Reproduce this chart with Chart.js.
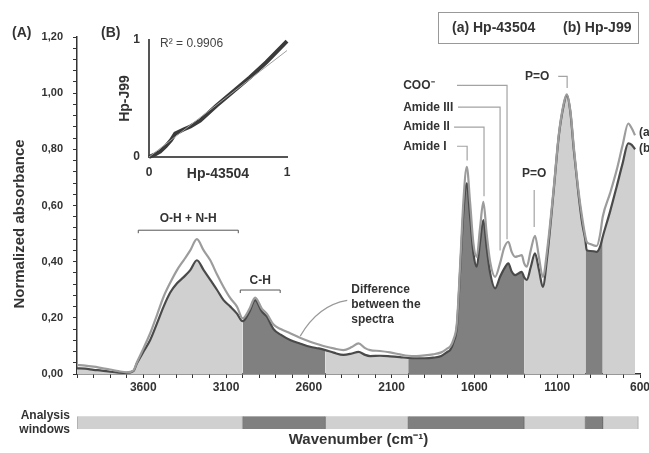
<!DOCTYPE html>
<html>
<head>
<meta charset="utf-8">
<script src="https://cdn.jsdelivr.net/npm/chart.js@4.4.0/dist/chart.umd.min.js"></script>
<style>
  html, body { margin: 0; padding: 0; background: #fff; }
  #wrap { position: relative; width: 649px; height: 453px; overflow: hidden; }
  #wrap canvas { position: absolute; }
</style>
</head>
<body>
<div id="wrap">
  <canvas id="spectraChart" width="649" height="453" style="left:0;top:0"></canvas>
  <canvas id="windowChart" width="649" height="58" style="left:0;top:395px"></canvas>
  <canvas id="corrChart" width="210" height="165" style="left:95px;top:20px"></canvas>
</div>
<script>
// Spectra (A): wavenumber (cm-1) and normalized absorbance of both strains
const wavenumbers = [
  4000, 3950, 3900, 3850, 3800, 3750, 3700, 3660, 3638, 3598,
  3558, 3517, 3477, 3437, 3396, 3356, 3316, 3276, 3235, 3195,
  3155, 3115, 3074, 3034, 3000, 2960, 2924, 2883, 2853, 2813,
  2770, 2713, 2650, 2592, 2540, 2500, 2450, 2391, 2340, 2300,
  2260, 2230, 2170, 2109, 2050, 2000, 1950, 1900, 1850, 1800,
  1760, 1747, 1725, 1706, 1686, 1666, 1646, 1626, 1606, 1586,
  1566, 1546, 1526, 1505, 1475, 1445, 1420, 1395, 1375, 1354,
  1334, 1314, 1300, 1284, 1260, 1234, 1210, 1187, 1160, 1123,
  1090, 1060, 1042, 1020, 1000, 972, 950, 930, 922, 900,
  880, 861, 840, 825, 780, 741, 705, 671, 650, 630
];
// (a) Hp-43504
const absorbanceA = [
  0.032, 0.030, 0.026, 0.021, 0.016, 0.010, 0.006, 0.012, 0.042, 0.092,
  0.145, 0.210, 0.275, 0.325, 0.370, 0.405, 0.440, 0.480, 0.440, 0.405,
  0.355, 0.310, 0.270, 0.240, 0.198, 0.230, 0.272, 0.232, 0.214, 0.176,
  0.160, 0.145, 0.128, 0.115, 0.105, 0.098, 0.091, 0.085, 0.096, 0.109,
  0.092, 0.085, 0.082, 0.077, 0.070, 0.065, 0.064, 0.066, 0.070, 0.077,
  0.092, 0.097, 0.125, 0.180, 0.390, 0.620, 0.738, 0.610, 0.465, 0.417,
  0.520, 0.613, 0.500, 0.400, 0.346, 0.395, 0.450, 0.471, 0.435, 0.417,
  0.420, 0.423, 0.395, 0.382, 0.440, 0.492, 0.415, 0.346, 0.445, 0.650,
  0.855, 0.965, 0.996, 0.935, 0.810, 0.655, 0.560, 0.490, 0.471, 0.463,
  0.458, 0.456, 0.500, 0.560, 0.645, 0.726, 0.815, 0.892, 0.875, 0.850
];
// (b) Hp-J99
const absorbanceB = [
  0.020, 0.019, 0.015, 0.012, 0.008, 0.005, 0.004, 0.010, 0.038, 0.080,
  0.121, 0.180, 0.240, 0.290, 0.323, 0.345, 0.370, 0.405, 0.370, 0.335,
  0.300, 0.263, 0.240, 0.215, 0.188, 0.220, 0.263, 0.222, 0.204, 0.160,
  0.140, 0.121, 0.108, 0.097, 0.091, 0.085, 0.076, 0.068, 0.073, 0.079,
  0.068, 0.064, 0.065, 0.063, 0.060, 0.057, 0.056, 0.056, 0.058, 0.064,
  0.080, 0.085, 0.115, 0.168, 0.370, 0.580, 0.679, 0.560, 0.430, 0.382,
  0.470, 0.548, 0.450, 0.360, 0.305, 0.346, 0.375, 0.394, 0.365, 0.352,
  0.358, 0.364, 0.345, 0.335, 0.380, 0.430, 0.370, 0.310, 0.420, 0.643,
  0.850, 0.960, 0.993, 0.930, 0.800, 0.643, 0.540, 0.477, 0.441, 0.438,
  0.437, 0.435, 0.455, 0.489, 0.580, 0.667, 0.750, 0.821, 0.816, 0.800
];

// Analysis windows (cm-1), alternating light / dark
const windowFrom = [4000, 3000, 2500, 2000, 1300, 930, 825];
const windowTo = [3000, 2500, 2000, 1300, 930, 825, 610];

const xTickLabels = [3600, 3100, 2600, 2100, 1600, 1100, 600];
const yTickLabels = [0, 0.2, 0.4, 0.6, 0.8, 1.0, 1.2];

// Correlation (B): Hp-43504 vs Hp-J99, and linear fit
const corrA = [0.00, 0.04, 0.08, 0.12, 0.16, 0.19, 0.25, 0.30, 0.37, 0.49, 0.61, 0.73, 0.85, 1.00];
const corrB = [0.00, 0.02, 0.045, 0.09, 0.145, 0.20, 0.235, 0.26, 0.31, 0.44, 0.56, 0.68, 0.81, 0.99];
const trendA = [0, 1];
const trendB = [0.0, 0.91];
const rSquared = '0.9906';

// Styles
const FONT = '"Liberation Sans", Arial, sans-serif';
const INK = '#333';
const AXIS = '#333';
const LIGHT = '#d0d0d0';
const DARK = '#808080';
const LEADER = '#a3a3a3';

Chart.defaults.font.family = FONT;
Chart.defaults.color = INK;

// Peak labels: text position and leader line, in (wavenumber, absorbance)
const peakNotes = [
  { text: 'COO\u207B', label: [2030, 1.028], leader: [[1705, 1.028], [1403, 1.028], [1403, 0.48]] },
  { text: 'Amide III', label: [2030, 0.950], leader: [[1699, 0.950], [1445, 0.950], [1445, 0.44]] },
  { text: 'Amide II', label: [2030, 0.879], leader: [[1723, 0.879], [1542, 0.879], [1542, 0.633]] },
  { text: 'Amide I', label: [2030, 0.811], leader: [[1705, 0.811], [1644, 0.811], [1644, 0.76]] },
  { text: 'P=O', label: [1294, 1.060], leader: [[1094, 1.060], [1040, 1.060], [1040, 1.018]] },
  { text: 'P=O', label: [1312, 0.715], leader: [[1239, 0.655], [1239, 0.523]] },
  { text: '(a)', label: [606, 0.861], leader: [] },
  { text: '(b)', label: [606, 0.804], leader: [] }
];
const bandNotes = [
  { text: 'O-H + N-H', from: 3630, to: 3026, level: 0.512, textLevel: 0.552 },
  { text: 'C-H', from: 3014, to: 2773, level: 0.299, textLevel: 0.331 }
];
const diffNote = {
  lines: ['Difference', 'between the', 'spectra'],
  at: [2344, 0.299],
  curve: [[2652, 0.135], [2543, 0.245], [2368, 0.262]]
};

function points(xs, ys) {
  return xs.map((v, i) => ({ x: v, y: ys[i] }));
}

// Fill under spectrum (b), one dataset per analysis window
function windowFills() {
  return windowFrom.map((from, i) => ({
    data: points(wavenumbers, absorbanceB).filter(p => p.x <= from && p.x >= windowTo[i]),
    backgroundColor: i % 2 ? DARK : LIGHT,
    borderColor: 'transparent',
    borderWidth: 0,
    fill: 'origin',
    cubicInterpolationMode: 'monotone',
    order: 1
  }));
}

const notesPlugin = {
  id: 'notes',
  afterDraw(chart) {
    const { ctx, scales: { x, y } } = chart;
    const at = p => [x.getPixelForValue(p[0]), y.getPixelForValue(p[1])];
    ctx.save();
    ctx.font = `bold 12px ${FONT}`;
    ctx.fillStyle = INK;
    ctx.textBaseline = 'middle';

    // peak labels with leader lines
    ctx.strokeStyle = LEADER;
    ctx.lineWidth = 1.2;
    peakNotes.forEach(n => {
      if (n.leader.length) {
        ctx.beginPath();
        n.leader.forEach((p, i) => {
          const [px, py] = at(p);
          if (i) ctx.lineTo(px, py); else ctx.moveTo(px, py);
        });
        ctx.stroke();
      }
      const [tx, ty] = at(n.label);
      ctx.textAlign = 'left';
      ctx.fillText(n.text, tx, ty);
    });

    // band brackets
    ctx.strokeStyle = '#555';
    ctx.lineWidth = 1;
    bandNotes.forEach(b => {
      const [x1, ly] = at([b.from, b.level]);
      const [x2] = at([b.to, b.level]);
      ctx.beginPath();
      ctx.moveTo(x1, ly + 3);
      ctx.lineTo(x1, ly);
      ctx.lineTo(x2, ly);
      ctx.lineTo(x2, ly + 3);
      ctx.stroke();
      const [tx, ty] = at([(b.from + b.to) / 2, b.textLevel]);
      ctx.textAlign = 'center';
      ctx.fillText(b.text, tx, ty);
    });

    // difference between spectra
    const [s, c, e] = diffNote.curve.map(at);
    ctx.strokeStyle = '#999';
    ctx.lineWidth = 1.2;
    ctx.beginPath();
    ctx.moveTo(s[0], s[1]);
    ctx.quadraticCurveTo(c[0], c[1], e[0], e[1]);
    ctx.stroke();
    const [dx, dy] = at(diffNote.at);
    ctx.textAlign = 'left';
    diffNote.lines.forEach((t, i) => ctx.fillText(t, dx, dy + i * 15));

    // axis title
    ctx.save();
    ctx.font = `bold 15px ${FONT}`;
    ctx.textAlign = 'center';
    ctx.translate(20, 224);
    ctx.rotate(-Math.PI / 2);
    ctx.fillText('Normalized absorbance', 0, 0);
    ctx.restore();

    // panel labels
    ctx.font = `bold 14px ${FONT}`;
    ctx.textAlign = 'left';
    ctx.fillText('(A)', 12, 33);
    ctx.fillText('(B)', 101, 33);

    // sample key box
    ctx.strokeStyle = '#999';
    ctx.lineWidth = 1;
    ctx.strokeRect(438.5, 12.5, 200, 31);
    ctx.fillText('(a) Hp-43504', 452, 28);
    ctx.fillText('(b) Hp-J99', 563, 28);
    ctx.restore();
  }
};

const spectraChart = new Chart(document.getElementById('spectraChart'), {
  type: 'line',
  data: {
    datasets: [
      {
        label: 'Hp-43504',
        data: points(wavenumbers, absorbanceA),
        borderColor: '#9c9c9c',
        borderWidth: 2.2,
        fill: false,
        cubicInterpolationMode: 'monotone',
        order: 0
      },
      {
        label: 'Hp-J99',
        data: points(wavenumbers, absorbanceB),
        borderColor: '#4a4a4a',
        borderWidth: 2.2,
        fill: false,
        cubicInterpolationMode: 'monotone',
        order: 0
      },
      ...windowFills()
    ]
  },
  options: {
    responsive: false,
    animation: false,
    layout: { padding: { left: 0, right: 9, top: 37, bottom: 49 } },
    elements: { point: { radius: 0 } },
    plugins: { legend: { display: false }, tooltip: { enabled: false } },
    scales: {
      x: {
        type: 'linear',
        min: 600,
        max: 4000,
        reverse: true,
        ticks: {
          stepSize: 100,
          autoSkip: false,
          maxRotation: 0,
          padding: 2,
          color: INK,
          font: { size: 12, weight: 'bold' },
          callback: v => (xTickLabels.includes(v) ? String(v) : '')
        },
        grid: { drawOnChartArea: false, tickLength: 4, color: AXIS },
        border: { color: AXIS, width: 1.5 },
        afterFit(s) { s.height = 30; s.paddingLeft = 0; s.paddingRight = 0; }
      },
      y: {
        min: 0,
        max: 1.2,
        ticks: {
          stepSize: 0.04,
          autoSkip: false,
          padding: 10,
          color: INK,
          font: { size: 11, weight: 'bold' },
          callback: v => (yTickLabels.some(t => Math.abs(t - v) < 1e-6) ? v.toFixed(2).replace('.', ',') : '')
        },
        grid: { drawOnChartArea: false, tickLength: 4, color: AXIS },
        border: { color: AXIS, width: 1.5 },
        afterFit(s) { s.width = 77; }
      }
    }
  },
  plugins: [notesPlugin]
});

// Analysis windows bar, on the same wavenumber scale
new Chart(document.getElementById('windowChart'), {
  type: 'bar',
  data: {
    labels: [['Analysis', 'windows']],
    datasets: windowFrom.map((from, i) => ({
      data: [[from, windowTo[i]]],
      backgroundColor: i % 2 ? DARK : LIGHT,
      borderColor: i % 2 ? '#6e6e6e' : '#a4a4a4',
      borderWidth: 1,
      borderSkipped: false,
      barThickness: 15,
      grouped: false
    }))
  },
  options: {
    indexAxis: 'y',
    responsive: false,
    animation: false,
    layout: { padding: { left: 0, right: 9, top: 5, bottom: 0 } },
    plugins: { legend: { display: false }, tooltip: { enabled: false } },
    scales: {
      x: {
        type: 'linear',
        min: 600,
        max: 4000,
        reverse: true,
        ticks: { display: false },
        grid: { display: false, drawTicks: false },
        border: { display: false },
        title: {
          display: true,
          text: 'Wavenumber (cm\u207B\u00B9)',
          color: INK,
          font: { size: 15, weight: 'bold' },
          padding: { top: 0, bottom: 4.6 }
        },
        afterFit(s) { s.height = 24; s.paddingLeft = 0; s.paddingRight = 0; }
      },
      y: {
        ticks: { padding: 7, color: INK, font: { size: 12, weight: 'bold' } },
        grid: { display: false, drawTicks: false },
        border: { display: false },
        afterFit(s) { s.width = 77; }
      }
    }
  }
});

// Inset (B): correlation between the two spectra
const corrPlugin = {
  id: 'corrNote',
  afterDraw(chart) {
    const { ctx, scales: { x, y } } = chart;
    ctx.save();
    ctx.font = `12px ${FONT}`;
    ctx.fillStyle = '#444';
    ctx.textBaseline = 'middle';
    ctx.fillText('R\u00B2 = ' + rSquared, x.getPixelForValue(0.08), y.getPixelForValue(0.966));
    ctx.restore();
  }
};

new Chart(document.getElementById('corrChart'), {
  type: 'scatter',
  data: {
    datasets: [
      {
        data: points(trendA, trendB),
        showLine: true,
        borderColor: '#a0a0a0',
        borderWidth: 1,
        pointRadius: 0,
        clip: 5
      },
      {
        data: points(corrA, corrB),
        showLine: true,
        borderColor: '#3a3a3a',
        borderWidth: 4,
        pointRadius: 0,
        clip: 5
      }
    ]
  },
  options: {
    responsive: false,
    animation: false,
    layout: { padding: { left: 0, right: 18, top: 20, bottom: 0 } },
    plugins: { legend: { display: false }, tooltip: { enabled: false } },
    scales: {
      x: {
        type: 'linear',
        min: 0,
        max: 1,
        ticks: { stepSize: 1, padding: 8, color: INK, font: { size: 12, weight: 'bold' } },
        grid: { display: false, drawTicks: false },
        border: { color: '#555', width: 2 },
        title: { display: true, text: 'Hp-43504', color: INK, font: { size: 14, weight: 'bold' }, padding: { top: 0, bottom: 2.6 } },
        afterFit(s) { s.height = 28; }
      },
      y: {
        type: 'linear',
        min: 0,
        max: 1,
        ticks: { stepSize: 1, padding: 9, color: INK, font: { size: 12, weight: 'bold' } },
        grid: { display: false, drawTicks: false },
        border: { color: '#555', width: 2 },
        title: { display: true, text: 'Hp-J99', color: INK, font: { size: 14, weight: 'bold' }, padding: { top: 21.6, bottom: 0 } },
        afterFit(s) { s.width = 54; }
      }
    }
  },
  plugins: [corrPlugin]
});
</script>
</body>
</html>
